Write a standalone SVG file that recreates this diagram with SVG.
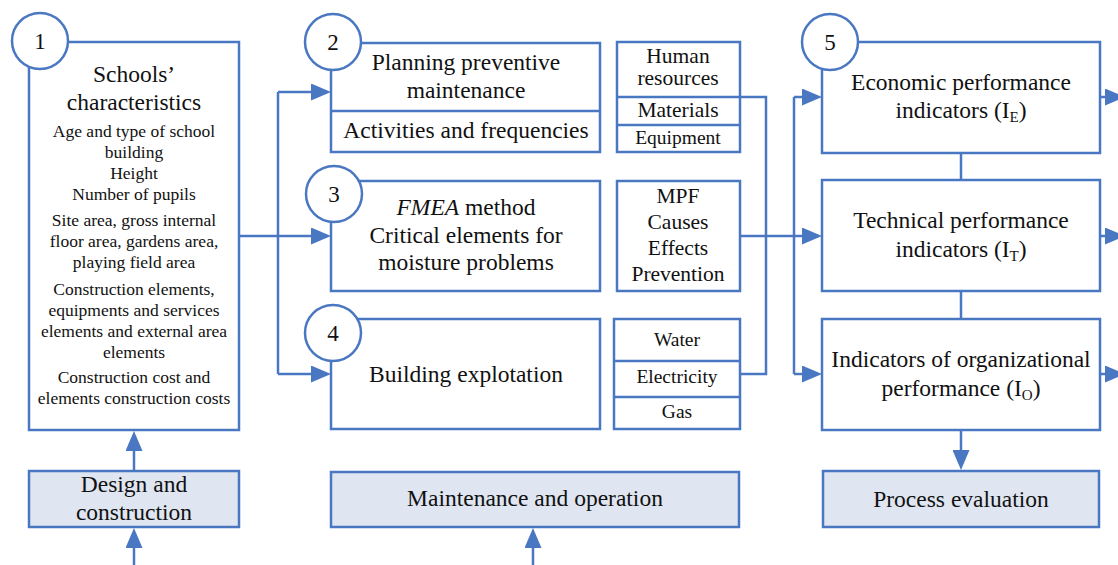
<svg xmlns="http://www.w3.org/2000/svg" width="1118" height="565" viewBox="0 0 1118 565" font-family="'Liberation Serif', 'Times New Roman', serif">
<style>
svg{font-family:'Liberation Serif','Times New Roman',serif}
.box{fill:#ffffff;stroke:#4a77c2;stroke-width:2.5}
.fbox{fill:#dfe6f1;stroke:#4a77c2;stroke-width:2.5}
.num{fill:#ffffff;stroke:#4a77c2;stroke-width:2.5}
.ln{fill:none;stroke:#4a77c2;stroke-width:2.5}
text{font-family:'Liberation Serif','Times New Roman',serif;fill:#111111;text-anchor:middle}
.b{font-size:23.5px}
.s{font-size:17.5px}
.m{font-size:21.5px}
.u{font-size:19.5px}
.n{font-size:23px}
.sub{font-size:15px}
</style>
<defs>
<marker id="ah" viewBox="0 0 20 17" refX="10" refY="8.5" markerWidth="20" markerHeight="17" markerUnits="userSpaceOnUse" orient="auto">
<path d="M0,0 L20,8.5 L0,17 z" fill="#4a77c2"/>
</marker>
</defs>

<g id="connectors">
<path class="ln" d="M239,236 H278 M278,92 V374"/>
<path class="ln" d="M278,92 H321" marker-end="url(#ah)"/>
<path class="ln" d="M278,236 H321" marker-end="url(#ah)"/>
<path class="ln" d="M278,374 H321" marker-end="url(#ah)"/>
<path class="ln" d="M740,97 H766 V374 H740 M740,236 H794 M794,97 V374"/>
<path class="ln" d="M794,97 H812" marker-end="url(#ah)"/>
<path class="ln" d="M794,236 H812" marker-end="url(#ah)"/>
<path class="ln" d="M794,374 H812" marker-end="url(#ah)"/>
<path class="ln" d="M961,153 V180 M961,291 V319"/>
<path class="ln" d="M961,430 V460" marker-end="url(#ah)"/>
<path class="ln" d="M1100,97 H1115" marker-end="url(#ah)"/>
<path class="ln" d="M1100,236 H1115" marker-end="url(#ah)"/>
<path class="ln" d="M1100,374 H1115" marker-end="url(#ah)"/>
<path class="ln" d="M134,471 V441" marker-end="url(#ah)"/>
<path class="ln" d="M134,565 V538" marker-end="url(#ah)"/>
<path class="ln" d="M533,565 V538" marker-end="url(#ah)"/>
</g>

<g id="node1" font-family="'Liberation Serif', serif">
<rect class="box" x="29" y="42" width="210" height="388"/>
<circle class="num" cx="40" cy="41" r="28"/>
<text class="n" x="40" y="49">1</text>
<text class="b" x="134" y="82">Schools’</text>
<text class="b" x="134" y="110">characteristics</text>
<text class="s" x="134" y="137">Age and type of school</text>
<text class="s" x="134" y="158">building</text>
<text class="s" x="134" y="179">Height</text>
<text class="s" x="134" y="200">Number of pupils</text>
<text class="s" x="134" y="226">Site area, gross internal</text>
<text class="s" x="134" y="247">floor area, gardens area,</text>
<text class="s" x="134" y="268">playing field area</text>
<text class="s" x="134" y="295">Construction elements,</text>
<text class="s" x="134" y="316">equipments and services</text>
<text class="s" x="134" y="337">elements and external area</text>
<text class="s" x="134" y="358">elements</text>
<text class="s" x="134" y="383">Construction cost and</text>
<text class="s" x="134" y="404">elements construction costs</text>
</g>

<g id="node-design" font-family="'Liberation Serif', serif">
<rect class="fbox" x="29" y="471" width="210" height="56"/>
<text class="b" x="134" y="492">Design and</text>
<text class="b" x="134" y="520">construction</text>
</g>

<g id="node2" font-family="'Liberation Serif', serif">
<rect class="box" x="331" y="43" width="269" height="109"/>
<line class="ln" x1="331" y1="111" x2="600" y2="111"/>
<circle class="num" cx="333" cy="42" r="28"/>
<text class="n" x="333" y="50">2</text>
<text class="b" x="466" y="70">Planning preventive</text>
<text class="b" x="466" y="98">maintenance</text>
<text class="b" x="466" y="138">Activities and frequencies</text>
</g>

<g id="node2-resources" font-family="'Liberation Serif', serif">
<rect class="box" x="617" y="42" width="123" height="110"/>
<line class="ln" x1="617" y1="97" x2="740" y2="97"/>
<line class="ln" x1="617" y1="125" x2="740" y2="125"/>
<text class="m" x="678" y="63">Human</text>
<text class="m" x="678" y="85">resources</text>
<text class="m" x="678" y="117">Materials</text>
<text class="u" x="678" y="144">Equipment</text>
</g>

<g id="node3" font-family="'Liberation Serif', serif">
<rect class="box" x="331" y="181" width="269" height="110"/>
<circle class="num" cx="334" cy="194" r="28"/>
<text class="n" x="334" y="202">3</text>
<text class="b" x="466" y="215"><tspan font-style="italic">FMEA</tspan> method</text>
<text class="b" x="466" y="243">Critical elements for</text>
<text class="b" x="466" y="270">moisture problems</text>
</g>

<g id="node3-mpf" font-family="'Liberation Serif', serif">
<rect class="box" x="617" y="181" width="123" height="110"/>
<text class="m" x="678" y="203">MPF</text>
<text class="m" x="678" y="229">Causes</text>
<text class="m" x="678" y="255">Effects</text>
<text class="m" x="678" y="281">Prevention</text>
</g>

<g id="node4" font-family="'Liberation Serif', serif">
<rect class="box" x="331" y="319" width="269" height="110"/>
<circle class="num" cx="333" cy="333" r="28"/>
<text class="n" x="333" y="341">4</text>
<text class="b" x="466" y="382">Building explotation</text>
</g>

<g id="node4-utilities" font-family="'Liberation Serif', serif">
<rect class="box" x="614" y="319" width="126" height="110"/>
<line class="ln" x1="614" y1="361" x2="740" y2="361"/>
<line class="ln" x1="614" y1="397" x2="740" y2="397"/>
<text class="u" x="677" y="346">Water</text>
<text class="u" x="677" y="383">Electricity</text>
<text class="u" x="677" y="418">Gas</text>
</g>

<g id="node-maintenance" font-family="'Liberation Serif', serif">
<rect class="fbox" x="331" y="472" width="408" height="55"/>
<text class="b" x="535" y="506">Maintenance and operation</text>
</g>

<g id="node5-economic" font-family="'Liberation Serif', serif">
<rect class="box" x="822" y="42" width="278" height="111"/>
<circle class="num" cx="830" cy="42" r="28"/>
<text class="n" x="830" y="50">5</text>
<text class="b" x="961" y="90">Economic performance</text>
<text class="b" x="961" y="118">indicators (I<tspan class="sub" dy="4">E</tspan><tspan dy="-4">)</tspan></text>
</g>

<g id="node5-technical" font-family="'Liberation Serif', serif">
<rect class="box" x="822" y="180" width="278" height="111"/>
<text class="b" x="961" y="228">Technical performance</text>
<text class="b" x="961" y="257">indicators (I<tspan class="sub" dy="4">T</tspan><tspan dy="-4">)</tspan></text>
</g>

<g id="node5-organizational" font-family="'Liberation Serif', serif">
<rect class="box" x="822" y="319" width="278" height="111"/>
<text class="b" x="961" y="367">Indicators of organizational</text>
<text class="b" x="961" y="396">performance (I<tspan class="sub" dy="4">O</tspan><tspan dy="-4">)</tspan></text>
</g>

<g id="node-evaluation" font-family="'Liberation Serif', serif">
<rect class="fbox" x="823" y="471" width="276" height="56"/>
<text class="b" x="961" y="507">Process evaluation</text>
</g>
</svg>
